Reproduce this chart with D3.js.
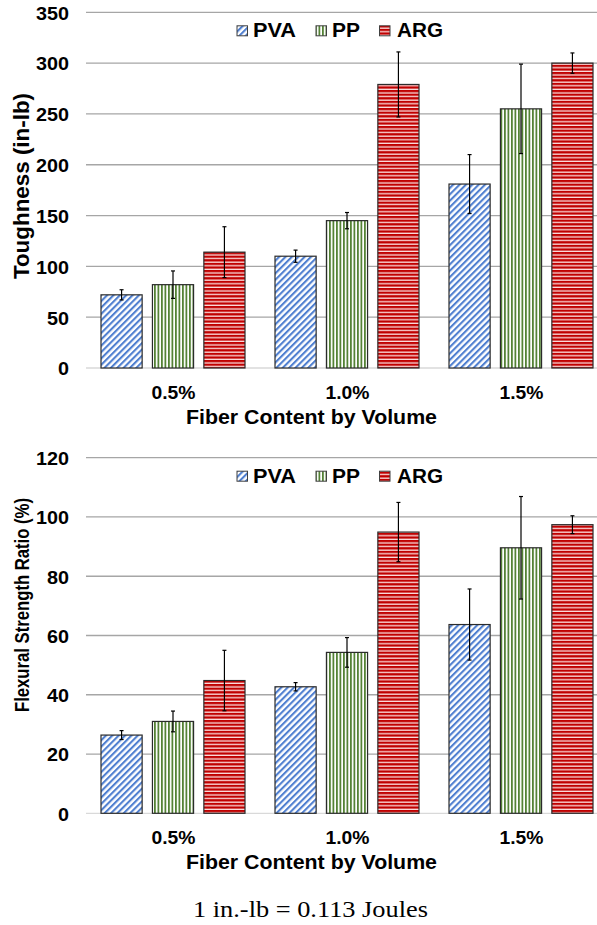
<!DOCTYPE html>
<html>
<head>
<meta charset="utf-8">
<script src="https://cdn.jsdelivr.net/npm/d3@7"></script>
<style>
  html, body { margin: 0; padding: 0; background: #fff; }
  svg { display: block; }
  text { font-family: Arial, "Liberation Sans", Helvetica, sans-serif; font-weight: bold; fill: #000; }
</style>
</head>
<body>
<svg id="chart" width="597" height="925"></svg>
<script>
// ---------- data ----------
const categories = ["0.5%", "1.0%", "1.5%"];
const series = ["PVA", "PP", "ARG"];

const toughness = {
  PVA: [72, 110, 181],
  PP:  [82, 145, 255],
  ARG: [114, 279, 300]
};
const toughnessErr = {
  PVA: [5, 6, 29],
  PP:  [13.5, 8, 44],
  ARG: [25, 32, 10]
};
const toughTicks = [0, 50, 100, 150, 200, 250, 300, 350];

const flexRatio = {
  PVA: [26.4, 42.7, 63.7],
  PP:  [31, 54.3, 89.6],
  ARG: [44.8, 94.9, 97.4]
};
const flexErr = {
  PVA: [1.5, 1.4, 12],
  PP:  [3.5, 5, 17.3],
  ARG: [10.2, 10, 3]
};
const flexTicks = [0, 20, 40, 60, 80, 100, 120];

const yTitles = ["Toughness (in-lb)", "Flexural Strength Ratio (%)"];
const xTitle = "Fiber Content by Volume";
const footnote = "1 in.-lb = 0.113 Joules";

// ---------- drawing ----------
const svg = d3.select("#chart");
const defs = svg.append("defs");

// patterns
const pva = defs.append("pattern").attr("id", "p-PVA")
  .attr("patternUnits", "userSpaceOnUse").attr("width", 4.5).attr("height", 4.5)
  .attr("patternTransform", "rotate(45)");
pva.append("rect").attr("width", 4.5).attr("height", 4.5).attr("fill", "#fff");
pva.append("rect").attr("width", 2.1).attr("height", 4.5).attr("fill", "#4f7fd0");

const pp = defs.append("pattern").attr("id", "p-PP")
  .attr("patternUnits", "userSpaceOnUse").attr("width", 3.5).attr("height", 4);
pp.append("rect").attr("width", 3.5).attr("height", 4).attr("fill", "#fff");
pp.append("rect").attr("width", 1.8).attr("height", 4).attr("fill", "#548235");

const arg = defs.append("pattern").attr("id", "p-ARG")
  .attr("patternUnits", "userSpaceOnUse").attr("width", 4).attr("height", 3.6);
arg.append("rect").attr("width", 4).attr("height", 3.6).attr("fill", "#fbe0e0");
arg.append("rect").attr("width", 4).attr("height", 2.3).attr("fill", "#c00000");

const fills = { PVA: "url(#p-PVA)", PP: "url(#p-PP)", ARG: "url(#p-ARG)" };

const plotLeft = 86, plotRight = 608;
const x0 = d3.scaleBand().domain(categories).range([plotLeft, plotRight]);
const x1 = d3.scaleBand().domain(series).range([15, 159]).paddingInner(0.2);

function drawChart(cfg) {
  const g = svg.append("g");
  const y = d3.scaleLinear().domain(cfg.domain).range(cfg.range);

  // gridlines
  g.selectAll("line.grid").data(cfg.ticks).enter().append("line")
    .attr("x1", plotLeft).attr("x2", 597)
    .attr("y1", d => y(d)).attr("y2", d => y(d))
    .attr("stroke", d => d === 0 ? "#d9d9d9" : "#a6a6a6")
    .attr("stroke-width", 1.3);

  // y axis labels
  const yAxis = d3.axisLeft(y).tickValues(cfg.ticks).tickSize(0).tickPadding(0);
  const ax = g.append("g").attr("transform", "translate(69,0)").call(yAxis);
  ax.attr("font-family", null).attr("font-size", null);
  ax.select(".domain").remove();
  ax.selectAll("text")
    .attr("font-size", 19).attr("fill", "#000")
    .attr("dy", "0.36em")
    .attr("textLength", function() { return this.textContent.length * 11; })
    .attr("lengthAdjust", "spacingAndGlyphs");

  // bars
  const rows = [];
  categories.forEach((c, i) => series.forEach(s => rows.push({ c, s, v: cfg.values[s][i], e: cfg.errors[s][i] })));

  g.selectAll("rect.bar").data(rows).enter().append("rect")
    .attr("x", d => x0(d.c) + x1(d.s))
    .attr("y", d => y(d.v))
    .attr("width", x1.bandwidth())
    .attr("height", d => y(0) - y(d.v))
    .attr("fill", d => fills[d.s])
    .attr("stroke", "#2b2b2b").attr("stroke-width", 1.2);

  // error bars
  const eb = g.selectAll("g.err").data(rows).enter().append("g");
  const cx = d => x0(d.c) + x1(d.s) + x1.bandwidth() / 2;
  eb.append("line").attr("x1", cx).attr("x2", cx)
    .attr("y1", d => y(d.v + d.e)).attr("y2", d => y(d.v - d.e))
    .attr("stroke", "#000").attr("stroke-width", 1.2);
  eb.append("line").attr("x1", d => cx(d) - 2).attr("x2", d => cx(d) + 2)
    .attr("y1", d => y(d.v + d.e)).attr("y2", d => y(d.v + d.e))
    .attr("stroke", "#000").attr("stroke-width", 1.2);
  eb.append("line").attr("x1", d => cx(d) - 2).attr("x2", d => cx(d) + 2)
    .attr("y1", d => y(d.v - d.e)).attr("y2", d => y(d.v - d.e))
    .attr("stroke", "#000").attr("stroke-width", 1.2);

  // category labels
  g.selectAll("text.cat").data(categories).enter().append("text")
    .attr("x", d => x0(d) + x0.bandwidth() / 2 + 0.5)
    .attr("y", y(0) + 30.5)
    .attr("text-anchor", "middle").attr("font-size", 19)
    .attr("textLength", 44).attr("lengthAdjust", "spacingAndGlyphs")
    .text(d => d);

  // x title
  g.append("text").attr("x", 311.5).attr("y", y(0) + 55.5)
    .attr("text-anchor", "middle").attr("font-size", 21)
    .attr("textLength", 251).attr("lengthAdjust", "spacingAndGlyphs")
    .text(xTitle);

  // y title
  const yt = g.append("text")
    .attr("transform", `translate(${cfg.yTitleX},${cfg.yTitleY}) rotate(-90)`)
    .attr("text-anchor", "middle").attr("font-size", cfg.yTitleSize)
    .text(cfg.yTitle);
  if (cfg.yTitleLen) yt.attr("textLength", cfg.yTitleLen).attr("lengthAdjust", "spacingAndGlyphs");

  // legend
  const top = y(cfg.domain[1]);
  const leg = [
    { s: "PVA", sx: 237, tx: 253, tl: 43 },
    { s: "PP",  sx: 316, tx: 332, tl: 28 },
    { s: "ARG", sx: 379.5, tx: 397, tl: 46 }
  ];
  const lg = g.selectAll("g.leg").data(leg).enter().append("g");
  lg.append("rect").attr("x", d => d.sx).attr("y", top + 13.5)
    .attr("width", 10.5).attr("height", 10)
    .attr("fill", d => fills[d.s]).attr("stroke", "#404040").attr("stroke-width", 1);
  lg.append("text").attr("x", d => d.tx).attr("y", top + 25)
    .attr("font-size", 20).attr("textLength", d => d.tl)
    .attr("lengthAdjust", "spacingAndGlyphs").text(d => d.s);
}

drawChart({
  domain: [0, 350], range: [368, 12.3], ticks: toughTicks,
  values: toughness, errors: toughnessErr,
  yTitle: yTitles[0], yTitleX: 29, yTitleY: 186, yTitleSize: 22.4
});
drawChart({
  domain: [0, 120], range: [813.3, 457.7], ticks: flexTicks,
  values: flexRatio, errors: flexErr,
  yTitle: yTitles[1], yTitleX: 28.5, yTitleY: 605, yTitleSize: 19.5, yTitleLen: 214
});

svg.append("text").attr("x", 310.5).attr("y", 917)
  .attr("text-anchor", "middle")
  .style("font-family", "'Times New Roman', Times, 'Liberation Serif', serif")
  .style("font-weight", "normal")
  .attr("font-size", 23).attr("textLength", 235).attr("lengthAdjust", "spacingAndGlyphs")
  .text(footnote);
</script>
</body>
</html>
